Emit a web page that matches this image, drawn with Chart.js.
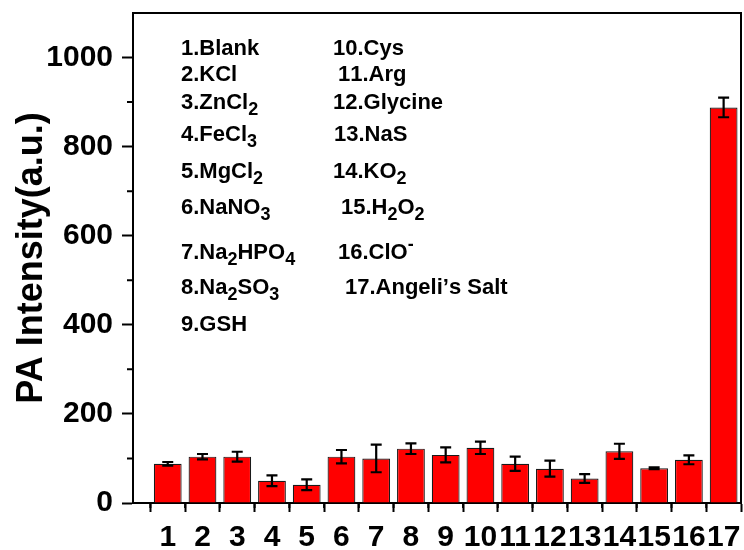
<!DOCTYPE html>
<html lang="en">

<head>
  <title>PA Intensity</title>
  <style>
    body { margin: 0; background: #fff; }
  </style>
</head>

<body>
  <canvas id="myChart" width="744" height="550"></canvas>
  <script src="https://cdn.jsdelivr.net/npm/chart.js@4.4.0/dist/chart.umd.min.js"></script>
  <script>
    // sample numbers on the x axis
    var labels = ['1', '2', '3', '4', '5', '6', '7', '8', '9', '10', '11', '12', '13', '14', '15', '16', '17'];
    // PA intensity (a.u.)
    var values = [88, 104, 104, 50, 41, 104, 100, 122, 108, 124, 88, 77, 55, 116, 78, 97, 888];
    // half height of the error bars
    var errors = [4, 6, 11, 12, 12, 15, 31, 12, 17, 14, 16, 18, 10, 17, 2, 10, 22];
    // names in the key, _x = subscript, ^x = superscript
    var names = ['Blank', 'KCl', 'ZnCl_2', 'FeCl_3', 'MgCl_2', 'NaNO_3', 'Na_2HPO_4', 'Na_2SO_3', 'GSH',
      'Cys', 'Arg', 'Glycine', 'NaS', 'KO_2', 'H_2O_2', 'ClO^-', 'Angeli\u2019s Salt'];
    var yTicks = [0, 200, 400, 600, 800, 1000];

    var FONT = "'Liberation Sans', Arial, sans-serif";

    var points = [];
    for (var i = 0; i < labels.length; i++) {
      points.push({ x: Number(labels[i]), y: values[i] });
    }

    // error bars
    var errorBars = {
      id: 'errorBars',
      afterDatasetsDraw: function (chart) {
        var c = chart.ctx;
        var meta = chart.getDatasetMeta(0);
        var ys = chart.scales.y;
        c.save();
        c.strokeStyle = '#000';
        c.lineWidth = 2.2;
        for (var i = 0; i < meta.data.length; i++) {
          var x = meta.data[i].x;
          var top = ys.getPixelForValue(values[i] + errors[i]);
          var bot = ys.getPixelForValue(values[i] - errors[i]);
          c.beginPath();
          c.moveTo(x, top); c.lineTo(x, bot);
          c.moveTo(x - 5.5, top); c.lineTo(x + 5.5, top);
          c.moveTo(x - 5.5, bot); c.lineTo(x + 5.5, bot);
          c.stroke();
        }
        c.restore();
      }
    };

    // box frame and minor ticks
    var frame = {
      id: 'frame',
      afterDraw: function (chart) {
        var c = chart.ctx;
        var a = chart.chartArea;
        var xs = chart.scales.x, ys = chart.scales.y;
        c.save();
        c.strokeStyle = '#000';
        c.lineWidth = 2;
        c.beginPath();
        c.moveTo(a.left, a.top); c.lineTo(a.right, a.top); c.lineTo(a.right, a.bottom);
        var v;
        for (v = 100; v < ys.max; v += 200) {
          var py = ys.getPixelForValue(v);
          c.moveTo(a.left, py); c.lineTo(a.left - 6, py);
        }
        for (v = 0.5; v < xs.max; v += 1) {
          var px = xs.getPixelForValue(v);
          c.moveTo(px, a.bottom); c.lineTo(px, a.bottom + 5);
        }
        c.stroke();
        c.restore();
      }
    };

    // key in two columns
    var keyRows = [49, 75, 103, 135, 172, 208, 253, 288, 325];
    var keyX = [181, 181, 181, 181, 181, 181, 181, 181, 181, 333, 338, 333, 334, 333, 341, 338, 345];
    function drawRich(c, text, x, y, size) {
      var i = 0;
      while (i < text.length) {
        var ch = text[i];
        if ((ch === '_' || ch === '^') && i + 1 < text.length) {
          var s = text[i + 1];
          c.font = 'bold ' + Math.round(size * 0.8) + 'px ' + FONT;
          var dy = ch === '_' ? size * 0.3 : -size * 0.35;
          c.fillText(s, x, y + dy);
          x += c.measureText(s).width;
          i += 2;
        } else {
          c.font = 'bold ' + size + 'px ' + FONT;
          c.fillText(ch, x, y);
          x += c.measureText(ch).width;
          i += 1;
        }
      }
    }
    var keyPlugin = {
      id: 'key',
      afterDraw: function (chart) {
        var c = chart.ctx;
        c.save();
        c.fillStyle = '#000';
        c.textBaseline = 'middle';
        c.textAlign = 'left';
        for (var i = 0; i < names.length; i++) {
          var row = i < 9 ? i : i - 9;
          drawRich(c, labels[i] + '.' + names[i], keyX[i], keyRows[row], 22);
        }
        c.restore();
      }
    };

    var ctx = document.getElementById('myChart').getContext('2d');
    var chart = new Chart(ctx, {
      type: 'bar',
      data: {
        datasets: [{
          data: points,
          backgroundColor: '#ff0000',
          borderColor: '#1a1a1a',
          borderWidth: 1.2,
          barPercentage: 0.8,
          categoryPercentage: 1
        }]
      },
      options: {
        responsive: false,
        animation: false,
        layout: { padding: { top: 13, right: 3, left: 0, bottom: 0 } },
        plugins: {
          legend: { display: false },
          tooltip: { enabled: false }
        },
        scales: {
          x: {
            type: 'linear',
            min: 0,
            max: 17.5,
            offset: false,
            afterFit: function (s) {
              s.height = 47;
              s.paddingLeft = 0; s.paddingRight = 0;
            },
            border: { display: true, color: '#000', width: 2 },
            grid: {
              drawOnChartArea: false,
              drawTicks: true,
              tickLength: 9,
              tickWidth: 2,
              tickColor: '#000'
            },
            ticks: {
              stepSize: 1,
              includeBounds: false,
              autoSkip: false,
              maxRotation: 0,
              padding: 8,
              color: '#000',
              font: { family: FONT, size: 30, weight: 'bold' },
              callback: function (v) { return v === 0 ? '' : String(v); }
            }
          },
          y: {
            min: 0,
            max: 1100,
            afterFit: function (s) {
              s.width = 133;
              s.paddingTop = 0; s.paddingBottom = 0;
            },
            border: { display: true, color: '#000', width: 2 },
            grid: {
              drawOnChartArea: false,
              drawTicks: true,
              tickLength: 11,
              tickWidth: 2,
              tickColor: function (c) { return yTicks.indexOf(c.tick.value) >= 0 ? '#000' : 'rgba(0,0,0,0)'; }
            },
            ticks: {
              stepSize: 100,
              padding: 9,
              color: '#000',
              font: { family: FONT, size: 30, weight: 'bold' },
              callback: function (v) { return yTicks.indexOf(v) >= 0 ? String(v) : ''; }
            },
            title: {
              display: true,
              text: 'PA Intensity(a.u.)',
              color: '#000',
              padding: { top: 10, bottom: 0 },
              font: { family: FONT, size: 36, weight: 'bold' }
            }
          }
        }
      },
      plugins: [errorBars, frame, keyPlugin]
    });
  </script>
</body>

</html>
